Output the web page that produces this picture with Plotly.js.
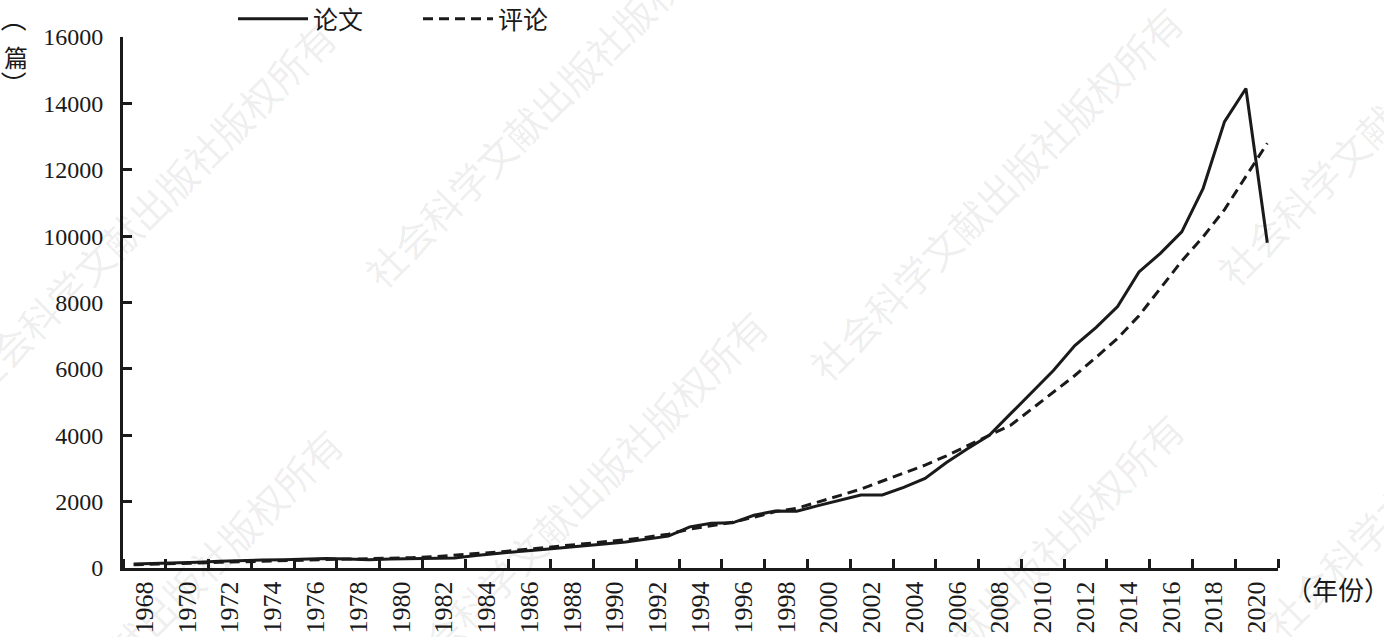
<!DOCTYPE html>
<html>
<head>
<meta charset="utf-8">
<script src="https://cdn.plot.ly/plotly-3.0.1.min.js"></script>
<style>
  html, body { margin: 0; padding: 0; background: #fff; }
  #chart { width: 1384px; height: 637px; }
</style>
</head>
<body>
<div id="chart"></div>
<script>
const years = [
  1968, 1969, 1970, 1971, 1972, 1973, 1974, 1975, 1976, 1977,
  1978, 1979, 1980, 1981, 1982, 1983, 1984, 1985, 1986, 1987,
  1988, 1989, 1990, 1991, 1992, 1993, 1994, 1995, 1996, 1997,
  1998, 1999, 2000, 2001, 2002, 2003, 2004, 2005, 2006, 2007,
  2008, 2009, 2010, 2011, 2012, 2013, 2014, 2015, 2016, 2017,
  2018, 2019, 2020, 2021
];

// 论文 (solid)
const papers = [
  120, 130, 150, 170, 200, 230, 240, 250, 260, 290,
  270, 250, 270, 280, 290, 300, 380, 450, 500, 550,
  600, 660, 720, 780, 860, 960, 1240, 1350, 1360, 1590,
  1720, 1710, 1880, 2040, 2200, 2200, 2430, 2700, 3180, 3600,
  4000, 4650, 5300, 5950, 6700, 7250, 7880, 8920, 9480, 10130,
  11440, 13450, 14450, 9800
];

// 评论 (dashed)
const reviews = [
  100, 110, 130, 150, 170, 190, 210, 230, 250, 265,
  270, 280, 290, 310, 340, 380, 430, 480, 540, 600,
  660, 720, 780, 850, 930, 1020, 1170, 1280, 1380, 1530,
  1700, 1800, 1980, 2180, 2380, 2620, 2870, 3100, 3380, 3700,
  4000, 4300, 4800, 5300, 5800, 6350, 6920, 7600, 8420, 9250,
  9980, 10800, 11800, 12800
];

const tickYears = [
  1968, 1970, 1972, 1974, 1976, 1978, 1980, 1982, 1984, 1986,
  1988, 1990, 1992, 1994, 1996, 1998, 2000, 2002, 2004, 2006,
  2008, 2010, 2012, 2014, 2016, 2018, 2020
];

const yTicks = [0, 2000, 4000, 6000, 8000, 10000, 12000, 14000, 16000];

const watermarkText = "社会科学文献出版社版权所有";
// watermark centres in page pixels
const watermarkSpots = [
  [148, 208], [550, 100], [995, 193], [1403, 98],
  [155, 615], [580, 497], [996, 600], [1450, 450]
];

const M = { l: 123, r: 106, t: 37, b: 69, autoexpand: false };
const W = 1384, H = 637;
const plotW = W - M.l - M.r, plotH = H - M.t - M.b;
const toPaperX = (px) => (px - M.l) / plotW;
const toPaperY = (py) => (H - M.b - py) / plotH;

const cjk = "'Noto Sans CJK SC', sans-serif";
const serif = "'Liberation Serif', serif";
const ink = "#1a1a1a";

const traces = [
  {
    x: years,
    y: papers,
    name: "论文",
    type: "scatter",
    mode: "lines",
    line: { color: ink, width: 3 },
  },
  {
    x: years,
    y: reviews,
    name: "评论",
    type: "scatter",
    mode: "lines",
    line: { color: ink, width: 3, dash: "10px,6px" },
  },
];

const pageText = (px, py, text, size, angle = 0) => ({
  xref: "paper",
  yref: "paper",
  x: toPaperX(px),
  y: toPaperY(py),
  text: text,
  showarrow: false,
  textangle: angle,
  xanchor: "center",
  yanchor: "middle",
  font: { family: cjk, size: size, color: ink },
});

const annotations = watermarkSpots.map(([px, py]) => ({
  xref: "paper",
  yref: "paper",
  x: toPaperX(px),
  y: toPaperY(py),
  text: watermarkText,
  showarrow: false,
  textangle: -45,
  xanchor: "center",
  yanchor: "middle",
  font: { family: cjk, size: 39, color: "rgba(0,0,0,0.08)" },
}));

// y-axis unit written vertically: brackets turned, character upright
annotations.push(pageText(16, 19, "（", 26, 90));
annotations.push(pageText(16, 56, "篇", 24));
annotations.push(pageText(16, 84, "）", 26, 90));
annotations.push(pageText(1338, 588, "（年份）", 26));

const layout = {
  width: W,
  height: H,
  margin: M,
  paper_bgcolor: "#fff",
  plot_bgcolor: "#fff",
  font: { family: serif, color: ink },
  showlegend: true,
  legend: {
    orientation: "h",
    x: toPaperX(233),
    y: toPaperY(19),
    xanchor: "left",
    yanchor: "middle",
    font: { family: cjk, size: 25, color: ink },
    itemwidth: 70,
    entrywidth: 100,
    bgcolor: "rgba(0,0,0,0)",
  },
  xaxis: {
    range: [1967.5, 2021.5],
    showgrid: false,
    zeroline: false,
    showline: true,
    linecolor: ink,
    linewidth: 3,
    tickmode: "array",
    tickvals: tickYears.map((y) => y + 0.5),
    ticktext: tickYears.map(String),
    ticks: "",
    tickangle: -90,
    ticklabelstandoff: 0,
    tickfont: { family: serif, size: 26, color: ink },
    minor: {
      tickmode: "linear",
      tick0: 1969.5,
      dtick: 2,
      ticks: "inside",
      ticklen: 9,
      tickwidth: 3,
      tickcolor: ink,
      showgrid: false,
    },
  },
  yaxis: {
    range: [0, 16000],
    showgrid: false,
    zeroline: false,
    showline: true,
    linecolor: ink,
    linewidth: 3,
    tickmode: "array",
    tickvals: yTicks,
    tickformat: "d",
    ticks: "inside",
    ticklen: 9,
    tickwidth: 3,
    tickcolor: ink,
    ticklabelstandoff: 12,
    tickfont: { family: serif, size: 24, color: ink },
  },
  annotations: annotations,
};

Plotly.newPlot("chart", traces, layout, { staticPlot: true, displayModeBar: false });
</script>
</body>
</html>
